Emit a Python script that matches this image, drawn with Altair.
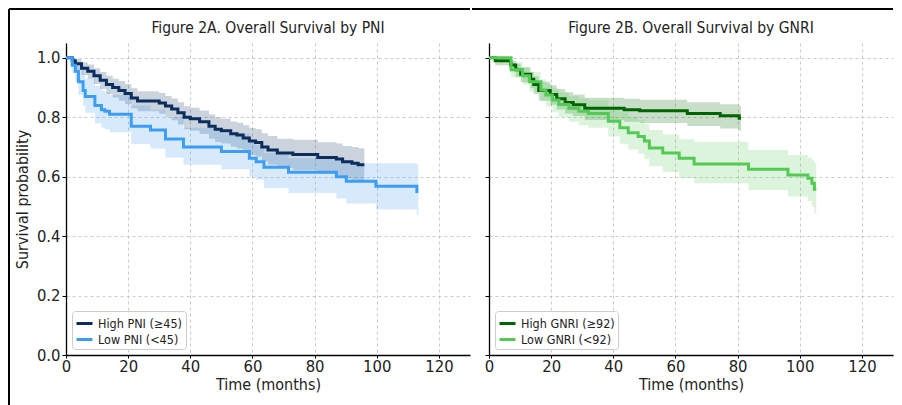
import altair as alt
import pandas as pd

FONT = "DejaVu Sans Condensed, Liberation Sans Narrow, sans-serif"

# ---- Figure 2A: PNI ----
pni_title = "Figure 2A. Overall Survival by PNI"
pni_groups = ["High PNI (≥45)", "Low PNI (<45)"]
pni_colors = ["#0b2e5f", "#3d9df3"]

pni_high_t = [0, 2, 3, 5, 7, 9, 11, 13, 15, 17, 19, 21, 23, 30, 32, 34, 36, 38, 40, 43,
              46, 48, 50, 53, 55, 57, 59, 61, 63, 65, 68, 73, 81, 87, 89, 92, 94]
pni_high_s = [1.0, 0.99, 0.98, 0.965, 0.955, 0.94, 0.925, 0.91, 0.90, 0.89, 0.88, 0.865,
              0.855, 0.848, 0.838, 0.828, 0.815, 0.80, 0.795, 0.785, 0.77, 0.76, 0.755,
              0.745, 0.74, 0.73, 0.72, 0.715, 0.70, 0.69, 0.68, 0.675, 0.665, 0.66, 0.65,
              0.645, 0.64]
pni_high_lo = [1.0, 0.975, 0.962, 0.942, 0.93, 0.912, 0.895, 0.878, 0.867, 0.856, 0.845,
               0.83, 0.82, 0.812, 0.80, 0.79, 0.776, 0.76, 0.755, 0.744, 0.728, 0.717,
               0.712, 0.701, 0.695, 0.684, 0.673, 0.667, 0.651, 0.64, 0.629, 0.623, 0.611,
               0.605, 0.594, 0.588, 0.582]
pni_high_hi = [1.0, 1.0, 0.995, 0.985, 0.978, 0.965, 0.952, 0.94, 0.93, 0.922, 0.912,
               0.898, 0.888, 0.882, 0.872, 0.863, 0.851, 0.837, 0.832, 0.823, 0.809, 0.80,
               0.795, 0.786, 0.782, 0.773, 0.764, 0.76, 0.746, 0.737, 0.728, 0.724, 0.716,
               0.712, 0.703, 0.70, 0.696]
pni_high_end = 96

pni_low_t = [0, 2, 3, 4, 5.5, 6.2, 9.3, 11.4, 12.5, 14, 21, 27.2, 32, 37.8, 50, 59, 61.2,
             63.7, 71.6, 87, 90.2, 99.7, 112.9]
pni_low_s = [1.0, 0.975, 0.955, 0.92, 0.89, 0.87, 0.84, 0.825, 0.82, 0.81, 0.77, 0.757,
             0.727, 0.70, 0.685, 0.662, 0.65, 0.632, 0.615, 0.60, 0.585, 0.568, 0.55]
pni_low_lo = [1.0, 0.95, 0.92, 0.875, 0.84, 0.815, 0.78, 0.765, 0.76, 0.75, 0.71, 0.695,
              0.665, 0.64, 0.625, 0.60, 0.59, 0.562, 0.545, 0.527, 0.51, 0.49, 0.47]
pni_low_hi = [1.0, 1.0, 0.99, 0.97, 0.945, 0.93, 0.905, 0.89, 0.885, 0.875, 0.84, 0.825,
              0.80, 0.765, 0.745, 0.72, 0.705, 0.68, 0.662, 0.657, 0.645, 0.645, 0.64]
pni_low_end = 113.4

# ---- Figure 2B: GNRI ----
gnri_title = "Figure 2B. Overall Survival by GNRI"
gnri_groups = ["High GNRI (≥92)", "Low GNRI (<92)"]
gnri_colors = ["#006400", "#55c955"]

gnri_high_t = [0, 2, 7, 8.6, 10.2, 13.4, 14.4, 16, 19.7, 21.8, 24.5, 27.1, 30.8, 43.5,
               48.5, 63.8, 74.4, 80.5]
gnri_high_s = [1.0, 0.99, 0.976, 0.96, 0.945, 0.928, 0.91, 0.89, 0.877, 0.862, 0.85,
               0.842, 0.83, 0.825, 0.822, 0.813, 0.805, 0.797]
gnri_high_lo = [1.0, 0.975, 0.955, 0.935, 0.918, 0.898, 0.878, 0.856, 0.842, 0.826, 0.813,
                0.804, 0.791, 0.785, 0.781, 0.771, 0.762, 0.755]
gnri_high_hi = [1.0, 1.0, 0.99, 0.98, 0.968, 0.953, 0.938, 0.92, 0.908, 0.895, 0.884,
                0.877, 0.866, 0.862, 0.859, 0.851, 0.844, 0.838]
gnri_high_end = 81.1

gnri_low_t = [0, 7.1, 10.8, 13, 16.7, 18.3, 20.4, 22.5, 25.7, 28.9, 32, 38.4, 42.1, 44.8,
              48, 50, 51.6, 55.9, 61.2, 66, 83.5, 96.2, 102.6, 103.9, 104.7]
gnri_low_s = [1.0, 0.96, 0.94, 0.92, 0.892, 0.875, 0.858, 0.843, 0.83, 0.82, 0.813, 0.787,
              0.765, 0.748, 0.735, 0.72, 0.697, 0.68, 0.662, 0.643, 0.625, 0.606, 0.595,
              0.578, 0.558]
gnri_low_lo = [1.0, 0.935, 0.91, 0.887, 0.855, 0.836, 0.817, 0.80, 0.785, 0.773, 0.765,
               0.735, 0.711, 0.692, 0.677, 0.66, 0.635, 0.616, 0.596, 0.578, 0.555, 0.533,
               0.518, 0.50, 0.476]
gnri_low_hi = [1.0, 0.985, 0.968, 0.952, 0.928, 0.913, 0.897, 0.884, 0.872, 0.864, 0.858,
               0.836, 0.817, 0.802, 0.79, 0.777, 0.757, 0.742, 0.726, 0.718, 0.69, 0.673,
               0.665, 0.655, 0.645]
gnri_low_end = 105.3

x_ticks = [0, 20, 40, 60, 80, 100, 120]
y_ticks = [0.0, 0.2, 0.4, 0.6, 0.8, 1.0]

W, H = 404, 312


def km_frame(group, color, t, s, lo, hi, end):
    rows = [dict(group=group, col=color, t=a, s=b, lo=c, hi=d)
            for a, b, c, d in zip(t, s, lo, hi)]
    rows.append(dict(group=group, col=color, t=end, s=s[-1], lo=lo[-1], hi=hi[-1]))
    return pd.DataFrame(rows)


one = pd.DataFrame({"k": [0]})


def panel(df, title, groups, colors, show_y, left):
    xs = alt.Scale(domain=[0, 130], nice=False, zero=False)
    ys = alt.Scale(domain=[0, 1.05], nice=False)
    xaxis = alt.Axis(values=x_ticks, title="Time (months)", labelFlush=False, format="d")
    if show_y:
        yaxis = alt.Axis(values=y_ticks, title="Survival probability", format=".1f")
    else:
        yaxis = alt.Axis(values=y_ticks, title=None, labels=False)
    band = alt.Chart(df).mark_area(interpolate="step-after", fillOpacity=0.21).encode(
        x=alt.X("t:Q", scale=xs, axis=xaxis),
        y=alt.Y("lo:Q", scale=ys, axis=yaxis),
        y2="hi:Q",
        fill=alt.Fill("col:N", scale=None),
        detail="group:N",
    )
    line = alt.Chart(df).mark_line(interpolate="step-after", strokeWidth=3).encode(
        x=alt.X("t:Q", scale=xs, axis=xaxis),
        y=alt.Y("s:Q", scale=ys, axis=yaxis),
        stroke=alt.Stroke(
            "group:N",
            scale=alt.Scale(domain=groups, range=colors),
            legend=alt.Legend(
                title=None, orient="bottom-left", offset=6,
                symbolType="stroke", symbolStrokeWidth=3, symbolSize=256,
                labelFontSize=12.5, labelFont=FONT, labelColor="#222222",
                strokeColor="#cccccc", fillColor="white", padding=3,
                cornerRadius=3, rowPadding=0,
            ),
        ),
    )
    title_mark = alt.Chart(one).mark_text(
        text=title, font=FONT, fontSize=15.5, color="#222222",
        align="center", baseline="middle",
    ).encode(x=alt.value(W / 2), y=alt.value(-15))
    layers = [band, line, title_mark]
    if left:
        frame_v = alt.Chart(one).mark_rule(color="black", strokeWidth=2).encode(
            x=alt.value(-57), y=alt.value(-34), y2=alt.value(364))
        frame_h = alt.Chart(one).mark_rule(color="black", strokeWidth=2).encode(
            x=alt.value(-57), x2=alt.value(W), y=alt.value(-34))
        layers += [frame_v, frame_h]
    else:
        frame_h = alt.Chart(one).mark_rule(color="black", strokeWidth=2).encode(
            x=alt.value(-17), x2=alt.value(W), y=alt.value(-34))
        layers += [frame_h]
    return alt.layer(*layers).properties(width=W, height=H)


dfA = pd.concat([
    km_frame(pni_groups[0], pni_colors[0], pni_high_t, pni_high_s, pni_high_lo, pni_high_hi, pni_high_end),
    km_frame(pni_groups[1], pni_colors[1], pni_low_t, pni_low_s, pni_low_lo, pni_low_hi, pni_low_end),
])
dfB = pd.concat([
    km_frame(gnri_groups[0], gnri_colors[0], gnri_high_t, gnri_high_s, gnri_high_lo, gnri_high_hi, gnri_high_end),
    km_frame(gnri_groups[1], gnri_colors[1], gnri_low_t, gnri_low_s, gnri_low_lo, gnri_low_hi, gnri_low_end),
])

left = panel(dfA, pni_title, pni_groups, pni_colors, True, True)
right = panel(dfB, gnri_title, gnri_groups, gnri_colors, False, False)

chart = alt.hconcat(left, right, spacing=0).properties(padding=0).resolve_scale(
    stroke="independent"
).configure_view(stroke=None).configure_axis(
    domainColor="black", domainWidth=1.3, tickColor="black", tickSize=4,
    tickWidth=1, labelFontSize=16.5, titleFontSize=16, labelFont=FONT, titleFont=FONT,
    labelColor="#222222", titleColor="#222222", titleFontWeight="normal",
    gridColor="#bdbdbd", gridDash=[3, 3], gridWidth=0.8, labelPadding=2,
).configure_axisY(titlePadding=6).configure_axisX(titlePadding=2, tickSize=3, labelPadding=0)

chart.save("out.html", embed_options={"renderer": "svg", "actions": False})
